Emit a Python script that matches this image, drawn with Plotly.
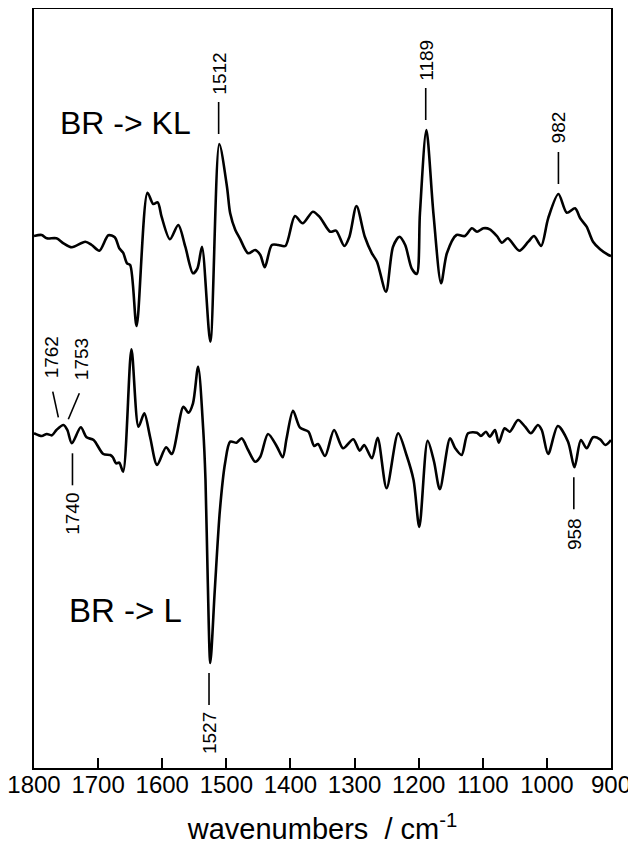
import numpy as np
import plotly.graph_objects as go

# ---------------- data ----------------
# BR -> KL difference spectrum (arbitrary absorbance units)
kl_wn = [1800, 1788, 1780, 1765, 1754, 1741, 1720, 1710, 1698, 1684, 1674, 1667, 1661, 1655,
         1650, 1640, 1623, 1614, 1607, 1601, 1588, 1575, 1564, 1552, 1545, 1538, 1525, 1511,
         1499, 1494, 1486, 1479, 1466, 1455, 1447, 1440, 1429, 1419, 1408, 1393, 1381, 1365,
         1354, 1338, 1329, 1316, 1308, 1297, 1284, 1273, 1265, 1251, 1240, 1230, 1221, 1211,
         1203, 1198, 1188, 1177, 1165, 1156, 1141, 1128, 1117, 1109, 1099, 1089, 1078, 1070,
         1061, 1043, 1029, 1020, 1009, 998, 982, 969, 956, 948, 938, 928, 917, 904, 900]
kl_val = [0.0, 0.1, -0.23, -0.23, -0.73, -1.13, -0.57, -0.9, -1.47, 0.07, -0.13, -1.23, -1.67, -2.73,
          -2.9, -9.0, 4.33, 3.2, 3.37, 1.93, -0.33, 1.1, -1.07, -3.73, -3.23, -1.07, -10.57, 9.2,
          4.93, 2.27, 0.6, -0.23, -1.73, -1.4, -1.9, -3.13, -0.9, -0.9, -1.0, 2.0, 1.27, 2.43,
          1.87, 0.43, 0.53, -1.0, -0.07, 3.0, -0.07, -1.73, -2.57, -5.57, -1.07, -0.07, -0.9, -3.23,
          -3.8, 2.3, 10.6, 2.27, -4.73, -1.73, 0.1, 0.0, 0.77, 0.43, 0.77, 0.67, 0.0, -0.67,
          -0.23, -1.47, -0.57, 0.0, -1.0, 1.77, 4.2, 2.33, 2.77, 1.77, 0.93, -0.57, -1.33, -1.9, -2.0]

# BR -> L difference spectrum (arbitrary absorbance units)
l_wn = [1800, 1788, 1780, 1772, 1765, 1754, 1748, 1741, 1727, 1718, 1707, 1692, 1681, 1677,
        1672, 1667, 1661, 1648, 1637, 1628, 1619, 1608, 1594, 1585, 1567, 1559, 1552, 1544,
        1536, 1532.5, 1529, 1525, 1518, 1510, 1502, 1494, 1484, 1476, 1466, 1455, 1447, 1435,
        1421, 1412, 1406, 1396, 1385, 1372, 1363, 1357, 1346, 1332, 1318, 1302, 1292, 1285,
        1273, 1264, 1250, 1232, 1219, 1208, 1199, 1186, 1176, 1167, 1151, 1143, 1133, 1123,
        1109, 1103, 1095, 1089, 1081, 1075, 1066, 1058, 1045, 1034, 1025, 1014, 1008, 998,
        983, 967, 957, 947, 938, 928, 917, 909, 900]
l_val = [0.17, -0.1, 0.1, -0.03, 0.5, 1.0, 0.5, -0.83, 0.77, -0.23, -0.5, -1.9, -2.0, -2.23,
         -2.83, -2.77, -3.67, 8.57, 0.83, 2.17, -0.17, -3.0, -1.23, -1.9, 2.83, 2.23, 3.17, 6.83,
         0.5, -4.5, -14.5, -22.8, -15.5, -7.5, -2.83, -0.67, -0.77, -0.33, -1.5, -2.67, -2.17, 0.1,
         -1.17, -2.23, -0.33, 2.43, 0.73, 0.33, -1.1, -0.9, -2.1, 0.5, -1.33, -0.43, -1.57, -1.0,
         -2.33, -0.27, -5.33, 0.17, -2.0, -4.5, -9.2, -0.57, -2.67, -5.43, -0.33, -1.33, -2.0, 0.17,
         0.23, -0.1, 0.33, -0.17, 0.5, -0.77, 0.67, 0.33, 1.5, 0.83, 0.17, 1.0, 0.5, -1.9,
         0.9, -0.67, -3.23, -0.5, -1.33, -0.23, -0.43, -1.0, -0.5]

kl_peaks_up = [1512, 1189, 982]          # labelled above the BR->KL trace
l_peaks_down = [1740, 1527, 958]         # labelled below the BR->L trace
l_peaks_slant = [1762, 1753]             # labelled with slanted leaders

x_ticks = [1800, 1700, 1600, 1500, 1400, 1300, 1200, 1100, 1000, 900]

# ---------------- layout constants ----------------
W, H = 628, 844                      # page body has an 8 px margin
ML, MR, MT, MB = 26, 25, 1, 84
PLOT_W = W - ML - MR
PLOT_H = H - MT - MB
X_RANGE = [1800, 900]
Y_RANGE = [0, PLOT_H / 10.0]          # 10 px per unit
KL_OFFSET = 53.2
L_OFFSET = 33.3
PX_Y = (Y_RANGE[1] - Y_RANGE[0]) / PLOT_H      # data units per px
PX_X = (X_RANGE[0] - X_RANGE[1]) / PLOT_W      # wavenumbers per px

FONT = "Liberation Sans, Arial, sans-serif"
BLACK = "#000000"
LABEL_SIZE = 19

fig = go.Figure()
fig.add_trace(go.Scatter(x=kl_wn, y=[v + KL_OFFSET for v in kl_val], mode="lines",
                         line=dict(color=BLACK, width=2.6, shape="spline", smoothing=0.8),
                         hoverinfo="skip", showlegend=False))
fig.add_trace(go.Scatter(x=l_wn, y=[v + L_OFFSET for v in l_val], mode="lines",
                         line=dict(color=BLACK, width=2.6, shape="spline", smoothing=0.8),
                         hoverinfo="skip", showlegend=False))


def extreme(wns, vals, target, kind):
    w = np.array(wns, float)
    v = np.array(vals, float)
    m = np.abs(w - target) <= 5
    return v[m].max() if kind == "max" else v[m].min()


shapes = []
annotations = []

def add_label(x, ypk, direction, text):
    # direction +1 = above, -1 = below
    y0 = ypk + direction * 10 * PX_Y
    y1 = ypk + direction * 42 * PX_Y
    shapes.append(dict(type="line", xref="x", yref="y", x0=x, x1=x, y0=y0, y1=y1,
                       line=dict(color=BLACK, width=1.6)))
    shift = 70 if len(text) == 4 else 67
    annotations.append(dict(x=x, y=ypk, xref="x", yref="y", text=text, showarrow=False,
                            textangle=-90, xanchor="center", yanchor="middle",
                            yshift=direction * shift,
                            font=dict(family=FONT, size=LABEL_SIZE, color=BLACK)))

for p in kl_peaks_up:
    add_label(p, extreme(kl_wn, kl_val, p, "max") + KL_OFFSET, 1, str(p))
for p in l_peaks_down:
    add_label(p, extreme(l_wn, l_val, p, "min") + L_OFFSET, -1, str(p))

# slanted leaders for 1762 / 1753
slant = {1762: (0, 12.7, -5.6, 38.3, -7, 73), 1753: (4.2, 5.7, 15.2, 31.7, 17, 66)}
for p in l_peaks_slant:
    ypk = extreme(l_wn, l_val, p, "max") + L_OFFSET
    dx0, dy0, dx1, dy1, tx, ty = slant[p]
    shapes.append(dict(type="line", xref="x", yref="y",
                       x0=p - dx0 * PX_X, y0=ypk + dy0 * PX_Y,
                       x1=p - dx1 * PX_X, y1=ypk + dy1 * PX_Y,
                       line=dict(color=BLACK, width=1.6)))
    annotations.append(dict(x=p, y=ypk, xref="x", yref="y", text=str(p), showarrow=False,
                            textangle=-90, xanchor="center", yanchor="middle",
                            xshift=tx, yshift=ty,
                            font=dict(family=FONT, size=LABEL_SIZE, color=BLACK)))

# spectrum names
annotations.append(dict(x=1762.5, y=64.5, xref="x", yref="y", text="BR -> KL", showarrow=False,
                        xanchor="left", yanchor="middle",
                        font=dict(family=FONT, size=32, color=BLACK)))
annotations.append(dict(x=1748.5, y=15.8, xref="x", yref="y", text="BR -> L", showarrow=False,
                        xanchor="left", yanchor="middle",
                        font=dict(family=FONT, size=33, color=BLACK)))

fig.update_layout(
    width=W, height=H,
    margin=dict(l=ML, r=MR, t=MT, b=MB, autoexpand=False),
    paper_bgcolor="white", plot_bgcolor="white",
    shapes=shapes, annotations=annotations,
    showlegend=False,
    font=dict(family=FONT, color=BLACK),
)
fig.update_xaxes(range=X_RANGE, tickmode="array", tickvals=x_ticks,
                 ticktext=[str(t) for t in x_ticks],
                 ticks="inside", ticklen=10, tickwidth=2, tickcolor=BLACK,
                 showline=True, linewidth=2, linecolor=BLACK, mirror=True,
                 showgrid=False, zeroline=False, automargin=False,
                 ticklabeloverflow="allow", ticklabelstandoff=-6,
                 tickfont=dict(family=FONT, size=24, color=BLACK),
                 title=dict(text="wavenumbers\u00a0\u00a0/ cm<sup>-1</sup>",
                            font=dict(family=FONT, size=29, color=BLACK), standoff=22))
fig.update_yaxes(range=Y_RANGE, showticklabels=False, ticks="",
                 showline=True, linewidth=2, linecolor=BLACK, mirror=True,
                 showgrid=False, zeroline=False)

fig.write_html("out.html")
